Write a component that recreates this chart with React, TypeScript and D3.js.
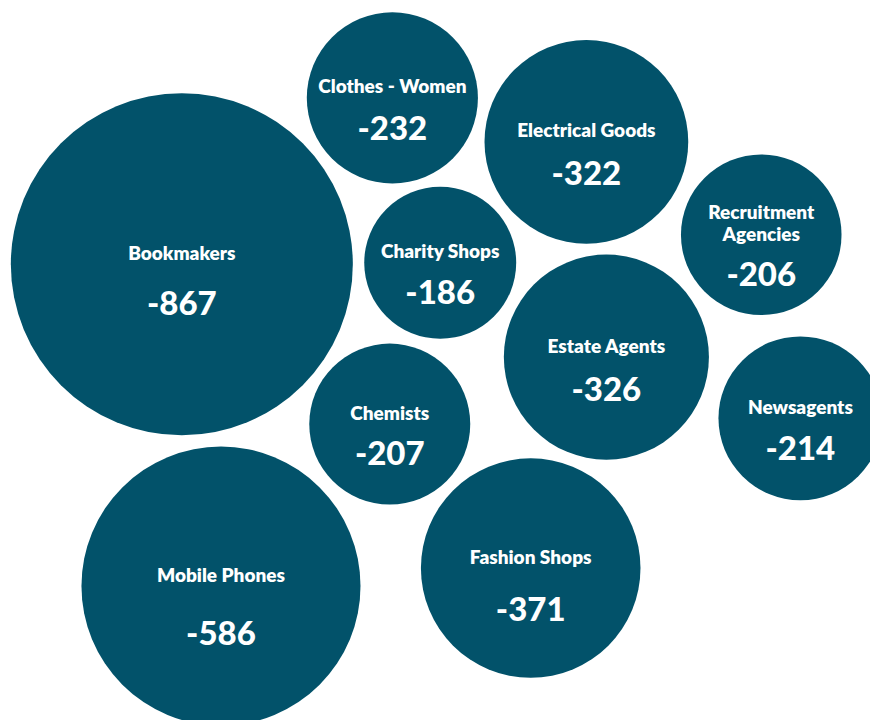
import React, { useMemo } from "react";
import * as d3 from "d3";

const categories = [
  "Bookmakers",
  "Mobile Phones",
  "Fashion Shops",
  "Estate Agents",
  "Electrical Goods",
  "Clothes - Women",
  "Newsagents",
  "Chemists",
  "Recruitment Agencies",
  "Charity Shops",
];
const values = [-867, -586, -371, -326, -322, -232, -214, -207, -206, -186];

// layout anchors (fraction of chart width / height) the force layout settles around
const anchorX = [0.209, 0.254, 0.61, 0.697, 0.674, 0.451, 0.92, 0.448, 0.875, 0.506];
const anchorY = [0.367, 0.814, 0.789, 0.496, 0.197, 0.136, 0.581, 0.589, 0.326, 0.365];

const W = 870;
const H = 720;
const PAD = 6;
const COLOR = "#02526a";
const FONT = "Lato, 'Open Sans', sans-serif";
const LABEL_SIZE = 19;
const VALUE_SIZE = 33;

function measure(text: string, size: number) {
  const c = document.createElement("canvas").getContext("2d");
  if (!c) return text.length * size * 0.55;
  c.font = `bold ${size}px Lato`;
  return c.measureText(text).width;
}

const fmt = d3.formatLocale({
  decimal: ".",
  thousands: ",",
  grouping: [3],
  currency: ["", ""],
  minus: "-",
}).format("d");

export default function App() {
  const nodes = useMemo(() => {
    const rScale = d3
      .scaleSqrt()
      .domain([0, d3.max(values, (v) => Math.abs(v)) as number])
      .range([0, 177]);
    const x = d3.scaleLinear().domain([0, 1]).range([0, W]);
    const y = d3.scaleLinear().domain([0, 1]).range([0, H]);
    const ns = categories.map((c, i) => ({
      name: c,
      value: values[i],
      r: rScale(Math.abs(values[i])) - PAD,
      tx: x(anchorX[i]),
      ty: y(anchorY[i]),
      x: x(anchorX[i]),
      y: y(anchorY[i]),
    }));
    const sim = d3
      .forceSimulation(ns as any)
      .force("x", d3.forceX((d: any) => d.tx).strength(0.5))
      .force("y", d3.forceY((d: any) => d.ty).strength(0.5))
      .force("collide", d3.forceCollide((d: any) => d.r + PAD - 1).strength(0.8))
      .stop();
    for (let i = 0; i < 200; i++) sim.tick();
    return ns;
  }, []);

  const gapScale = d3
    .scaleLinear()
    .domain([76, 102, 110, 140, 171])
    .range([40, 42, 52, 58, 50]);

  return (
    <svg
      width={W}
      height={H}
      style={{ position: "absolute", left: 0, top: 0, display: "block" }}
    >
      <rect width={W} height={H} fill="#ffffff" />
      {nodes.map((n) => {
        const words = n.name.split(" ");
        let lines = [n.name];
        if (measure(n.name, LABEL_SIZE) > 2 * n.r - 6 && words.length > 1) {
          const k = Math.ceil(words.length / 2);
          lines = [words.slice(0, k).join(" "), words.slice(k).join(" ")];
        }
        const lh = 22;
        const labelMid = n.y - 12;
        const firstY = labelMid - ((lines.length - 1) * lh) / 2;
        const valueY = lines.length > 1 ? n.y + 38 : labelMid + gapScale(n.r);
        return (
          <g key={n.name}>
            <circle cx={n.x} cy={n.y} r={n.r} fill={COLOR} />
            {lines.map((l, j) => (
              <text
                key={j}
                x={n.x}
                y={firstY + j * lh}
                textAnchor="middle"
                dominantBaseline="central"
                fill="#ffffff"
                fontFamily={FONT}
                fontWeight={800}
                fontSize={LABEL_SIZE}
              >
                {l}
              </text>
            ))}
            <text
              x={n.x}
              y={valueY}
              textAnchor="middle"
              dominantBaseline="central"
              fill="#ffffff"
              fontFamily={FONT}
              fontWeight={900}
              fontSize={VALUE_SIZE}
            >
              {fmt(n.value)}
            </text>
          </g>
        );
      })}
    </svg>
  );
}
